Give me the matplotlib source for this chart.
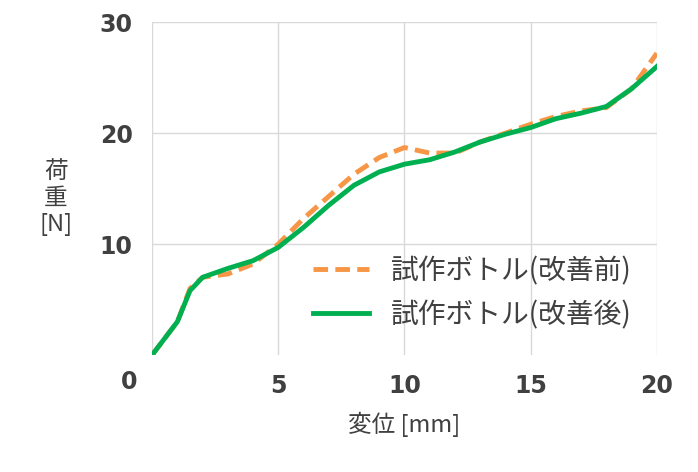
import matplotlib
matplotlib.use("Agg")
import matplotlib.pyplot as plt

plt.rcParams['font.family'] = ['Noto Sans CJK JP', 'DejaVu Sans']

x = [0, 1, 1.5, 2, 3, 4, 5, 6, 7, 8, 9, 10, 11, 12, 13, 14, 15, 16, 17, 18, 19, 20]
before = [0, 3, 6.0, 7, 7.3, 8.2, 10, 12.3, 14.3, 16.3, 17.8, 18.7, 18.2, 18.2, 19.2, 20, 20.8, 21.5, 22, 22.3, 24, 27.2]
after = [0, 3, 5.8, 7, 7.8, 8.5, 9.7, 11.5, 13.5, 15.3, 16.5, 17.2, 17.6, 18.3, 19.2, 19.9, 20.5, 21.3, 21.8, 22.4, 24, 26]

fig = plt.figure(figsize=(6.98, 4.72), dpi=100)
ax = fig.add_axes([0.218, 0.248, 0.723, 0.705])

ax.plot(x, before, color='#f79646', lw=3.5, ls=(0, (3, 1.5)), label='試作ボトル(改善前)')
ax.plot(x, after, color='#00b050', lw=3.5, label='試作ボトル(改善後)')

ax.set_xlim(0, 20)
ax.set_ylim(0, 30)
ax.set_xticks([0, 5, 10, 15, 20])
ax.set_xticklabels(['', '5', '10', '15', '20'])
ax.set_yticks([10, 20, 30])
ax.grid(color='#d9d9d9', lw=1)
ax.set_axisbelow(True)
for s in ax.spines.values():
    s.set_visible(False)
ax.tick_params(length=0, labelsize=17, labelcolor='#404040', pad=14)
for t in ax.get_xticklabels() + ax.get_yticklabels():
    t.set_fontweight('bold')
    t.set_family('Liberation Sans Narrow')
ax.text(-0.9, -2.4, '0', fontsize=17, color='#404040', fontweight='bold',
        family='Liberation Sans Narrow', ha='center', va='center')

ax.set_xlabel('変位 [mm]', fontsize=17, color='#404040', labelpad=10)
fig.text(0.08, 0.58, '荷\n重\n[N]', fontsize=17, color='#404040', ha='center', va='center', linespacing=1.2)

ax.legend(loc='lower right', bbox_to_anchor=(1.0, 0.0), frameon=False, fontsize=20,
          handlelength=2.0, labelcolor='#404040')

fig.savefig('out.png', dpi=100)
